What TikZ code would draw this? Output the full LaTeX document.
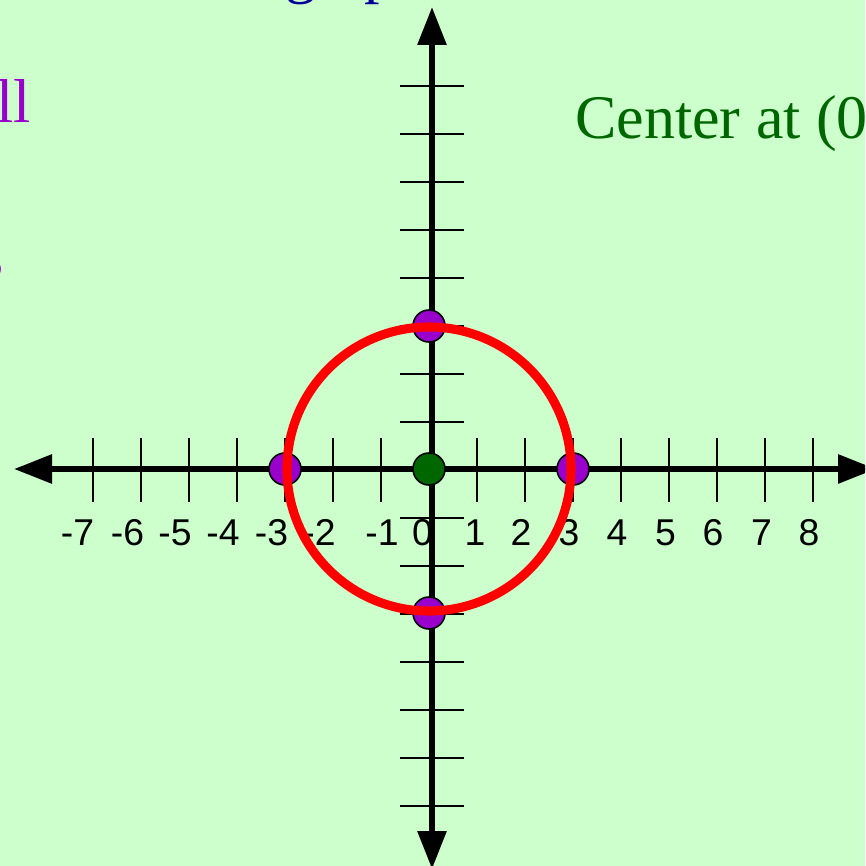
\documentclass[tikz,border=0pt]{standalone}
\usepackage{fontspec}
\setmainfont{Liberation Serif}
\newfontfamily\arialfont{Liberation Sans}
\usetikzlibrary{arrows.meta}
\definecolor{bgc}{HTML}{CCFFCC}
\definecolor{purp}{HTML}{9900CC}
\definecolor{dgreen}{HTML}{006600}
\definecolor{dblue}{HTML}{000099}
\begin{document}
\begin{tikzpicture}[x=0.75pt,y=-0.75pt,
  axisline/.style={line width=4.5pt,
    {Triangle[length=28.5pt,width=21pt]}-{Triangle[length=28.5pt,width=21pt]}},
  tickmark/.style={line width=2pt},
  numlabel/.style={font=\arialfont\fontsize{28}{28}\selectfont, inner sep=0pt, anchor=base},
  dotbase/.style={circle, draw=black, line width=1.2pt, minimum size=24pt, inner sep=0pt},
  pdot/.style={dotbase, fill=purp},
  gdot/.style={dotbase, fill=dgreen},
  ringline/.style={circle, draw=red, line width=6.8pt, minimum size=213pt, inner sep=0pt},
  bigtext/.style={font=\fontsize{46.5}{50}\selectfont, inner sep=0pt}
]
\fill[bgc] (0,0) rectangle (865,866);
\useasboundingbox (0,0) rectangle (865,866);
\clip (0,0) rectangle (865,866);

% texts at the edges
\node[bigtext, text=dblue, anchor=base west] (title) at (285,-8.5) {graph};
\node[bigtext, text=purp, anchor=base east] (lefta) at (31,123) {ll};
\node[bigtext, text=purp, anchor=base east] (leftb) at (4,277) {s};
\node[bigtext, text=dgreen, anchor=base west] (center) at (575,139) {Center at (0, 0)};

% axes
\coordinate (xl) at (14,469);
\coordinate (xr) at (876,469);
\coordinate (yt) at (432,7);
\coordinate (yb) at (432,869);
\draw[axisline] (xl) -- (xr);
\draw[axisline] (yt) -- (yb);

% ticks on the x axis
\foreach \i in {-7,...,-1,1,2,...,8}{
  \draw[tickmark] ({429+48*\i},438) -- ({429+48*\i},502);
}
% ticks on the y axis
\foreach \k in {-7,...,-1,1,2,...,8}{
  \draw[tickmark] (400,{470-48*\k}) -- (464,{470-48*\k});
}

% labels
\foreach \x/\t in {77.5/-7,127.5/-6,175/-5,223/-4,271.5/-3,319/-2,382/-1,422.5/0,
                   475/1,521/2,569/3,617/4,665.5/5,713/6,761.5/7,809/8}{
  \node[numlabel] at (\x,545) {\t};
}

% points
\node[pdot] (pl) at (285,469) {};
\node[pdot] (pr) at (573,469) {};
\node[pdot] (pt) at (429,326) {};
\node[pdot] (pb) at (429,613) {};
\node[gdot] (o) at (429,469) {};

% circle
\node[ringline] (ring) at (429,469) {};
\end{tikzpicture}
\end{document}
